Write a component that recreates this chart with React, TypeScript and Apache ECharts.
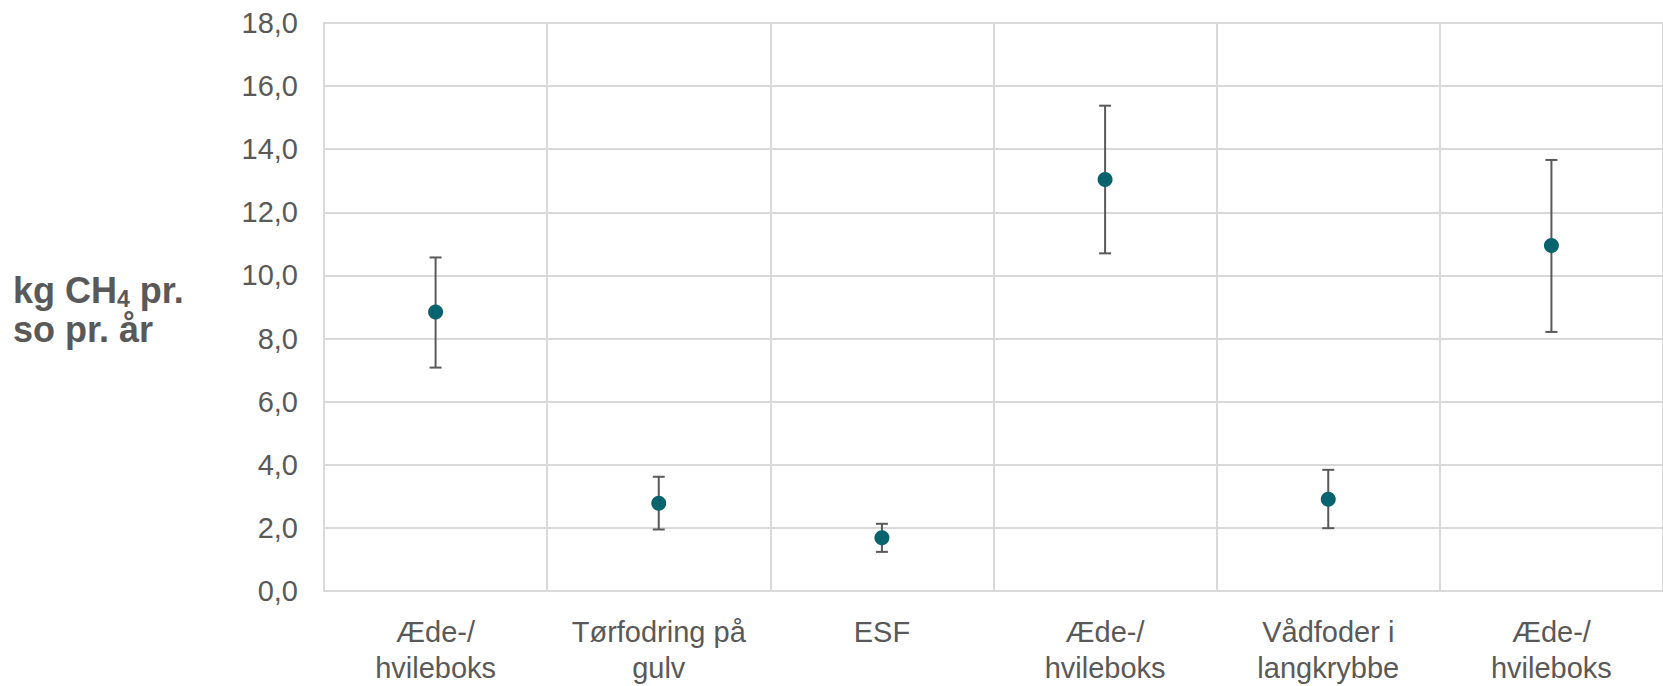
import React, { useEffect, useRef } from "react";
import * as echarts from "echarts";

const categories = [
  "Æde-/\nhvileboks",
  "Tørfodring på\ngulv",
  "ESF",
  "Æde-/\nhvileboks",
  "Vådfoder i\nlangkrybbe",
  "Æde-/\nhvileboks",
];
const meanValues = [8.84, 2.78, 1.69, 13.04, 2.91, 10.95];
const upperValues = [10.57, 3.62, 2.13, 15.38, 3.84, 13.66];
const lowerValues = [7.08, 1.95, 1.24, 10.7, 1.99, 8.21];
const yTicks = { min: 0, max: 18, interval: 2 };

const FONT = "'Liberation Sans', Arial, sans-serif";
const TEXT = "#595959";
const GRID = "#d9d9d9";

export default function App() {
  const ref = useRef<HTMLDivElement>(null);
  useEffect(() => {
    if (!ref.current) return;
    const chart = echarts.init(ref.current, undefined, { renderer: "svg" });
    const errData = categories.map((_, i) => [i, lowerValues[i], upperValues[i]]);
    const ptData = categories.map((_, i) => [i, meanValues[i]]);
    chart.setOption({
      animation: false,
      backgroundColor: "#ffffff",
      title: {
        text: "{b|kg CH}{s|4}{b| pr.}\n{b|so pr. år}",
        left: 13,
        top: 271,
        padding: 0,
        textStyle: {
          rich: {
            b: { fontFamily: FONT, fontSize: 36, fontWeight: "bold", color: TEXT, lineHeight: 39 },
            s: { fontFamily: FONT, fontSize: 23, fontWeight: "bold", color: TEXT, lineHeight: 22, verticalAlign: "bottom" },
          },
        },
      },
      grid: { left: 324, top: 23, right: -9, bottom: 91 },
      xAxis: {
        type: "category",
        data: categories,
        boundaryGap: true,
        axisLine: { show: true, lineStyle: { color: GRID, width: 2 } },
        axisTick: { show: false },
        splitLine: { show: true, lineStyle: { color: GRID, width: 2 } },
        axisLabel: {
          interval: 0,
          margin: 23,
          fontFamily: FONT,
          fontSize: 29,
          lineHeight: 36,
          color: TEXT,
        },
      },
      yAxis: {
        type: "value",
        min: yTicks.min,
        max: yTicks.max,
        interval: yTicks.interval,
        axisLine: { show: true, lineStyle: { color: GRID, width: 2 } },
        axisTick: { show: false },
        splitLine: { show: true, lineStyle: { color: GRID, width: 2 } },
        axisLabel: {
          margin: 26,
          fontFamily: FONT,
          fontSize: 29,
          color: TEXT,
          formatter: (v: number) => v.toFixed(1).replace(".", ","),
        },
      },
      series: [
        {
          type: "custom",
          data: errData,
          encode: { x: 0, y: [1, 2] },
          z: 2,
          renderItem: (params: any, api: any) => {
            const x = api.value(0);
            const lo = api.coord([x, api.value(1)]);
            const hi = api.coord([x, api.value(2)]);
            const cap = 6;
            const style = { stroke: "#595959", lineWidth: 2 };
            return {
              type: "group",
              children: [
                { type: "line", shape: { x1: lo[0], y1: lo[1], x2: hi[0], y2: hi[1] }, style },
                { type: "line", shape: { x1: hi[0] - cap, y1: hi[1], x2: hi[0] + cap, y2: hi[1] }, style },
                { type: "line", shape: { x1: lo[0] - cap, y1: lo[1], x2: lo[0] + cap, y2: lo[1] }, style },
              ],
            };
          },
        },
        {
          type: "scatter",
          data: ptData,
          symbol: "circle",
          symbolSize: 15,
          z: 3,
          itemStyle: { color: "#07646F", opacity: 1 },
        },
      ],
    });
    return () => chart.dispose();
  }, []);
  return (
    <div
      ref={ref}
      style={{ position: "fixed", left: 0, top: 0, width: 1663, height: 686, background: "#fff" }}
    />
  );
}
